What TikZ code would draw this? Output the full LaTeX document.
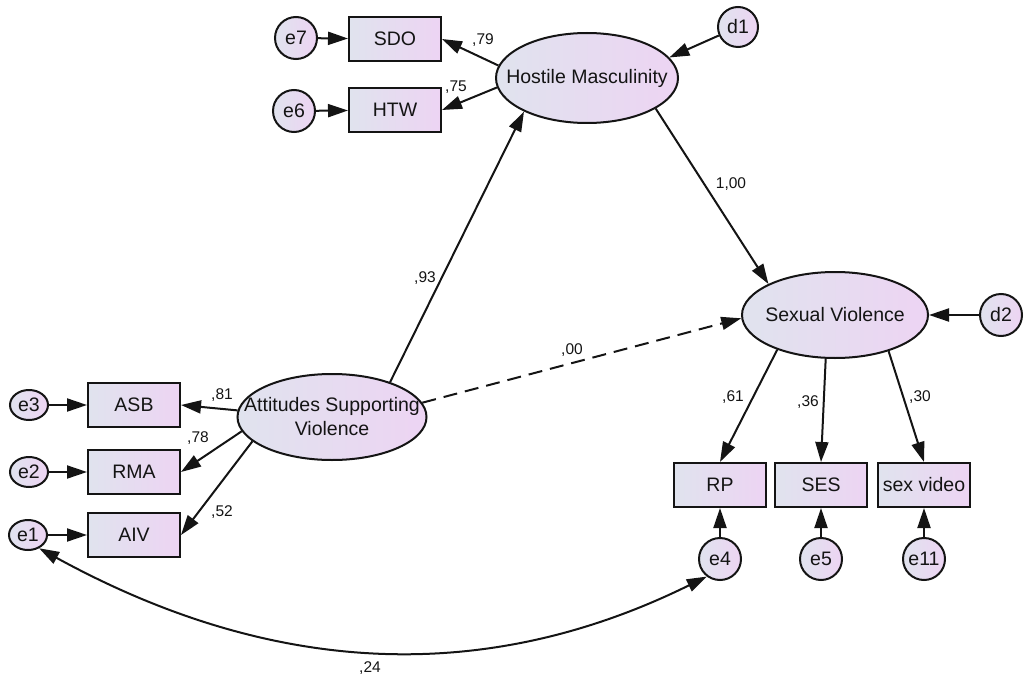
\documentclass[tikz,border=0pt]{standalone}
\usepackage{fontspec}
\setmainfont{Liberation Sans}
\usetikzlibrary{arrows.meta,shapes.geometric}

\definecolor{fillL}{RGB}{224,227,238}
\definecolor{fillR}{RGB}{237,212,243}
\definecolor{inkc}{RGB}{20,20,20}

\tikzset{
  >={Triangle[length=20pt,width=13pt]},
  grad/.style={left color=fillL, right color=fillR},
  txt/.style={font=\fontsize{19.5}{24}\selectfont, text=inkc, inner sep=0pt},
  obsbox/.style={rectangle, draw=inkc, line width=2pt, grad,
    minimum width=92pt, minimum height=44pt, inner sep=0pt, txt},
  latent/.style={ellipse, draw=inkc, line width=2pt, grad, inner sep=0pt,
    minimum width=182pt, minimum height=90pt},
  errc/.style={circle, draw=inkc, line width=2pt, grad, inner sep=0pt,
    minimum size=42pt},
  errl/.style={ellipse, draw=inkc, line width=2pt, grad, inner sep=0pt,
    minimum width=38pt, minimum height=30pt},
  arr/.style={line width=2pt, draw=inkc, ->},
  coef/.style={font=\fontsize{15.5}{17}\selectfont, text=inkc, inner sep=0pt}
}

\begin{document}
\begin{tikzpicture}[x=1pt,y=-1pt]
\useasboundingbox (0,0) rectangle (1024,679);

% latent variables
\node[latent, label={[txt]center:Hostile Masculinity}] (hm) at (587,78) {};
\node[latent, minimum width=186pt, minimum height=86pt,
      label={[txt]center:Sexual Violence}] (sv) at (835,315) {};
\node[latent, minimum width=189pt, minimum height=86pt,
      label={[txt, align=center]center:{Attitudes Supporting\\Violence}}] (asv) at (332,417) {};

% disturbances
\node[errc, minimum size=40pt, label={[txt]center:d1}] (d1) at (738,27) {};
\node[errc, label={[txt]center:d2}] (d2) at (1001,315) {};

% indicators of hostile masculinity
\node[obsbox] (sdo) at (395,39) {SDO};
\node[obsbox] (htw) at (395,110) {HTW};
\node[errc, label={[txt]center:e7}] (e7) at (296,38) {};
\node[errc, label={[txt]center:e6}] (e6) at (294,111) {};

% indicators of attitudes supporting violence
\node[obsbox] (asb) at (134,405) {ASB};
\node[obsbox] (rma) at (134,472) {RMA};
\node[obsbox] (aiv) at (134,535) {AIV};
\node[errl, label={[txt]center:e3}] (e3) at (29,405) {};
\node[errl, label={[txt]center:e2}] (e2) at (29,472) {};
\node[errl, label={[txt]center:e1}] (e1) at (28,535) {};

% indicators of sexual violence
\node[obsbox] (rp) at (720,485) {RP};
\node[obsbox] (ses) at (821,485) {SES};
\node[obsbox] (sxv) at (924,485) {sex video};
\node[errc, label={[txt]center:e4}] (e4) at (720,559) {};
\node[errc, label={[txt]center:e5}] (e5) at (821,559) {};
\node[errc, label={[txt]center:e11}] (e11) at (924,559) {};

% error terms
\draw[arr] (e7) -- (sdo);
\draw[arr] (e6) -- (htw);
\draw[arr] (e3) -- (asb);
\draw[arr] (e2) -- (rma);
\draw[arr] (e1) -- (aiv);
\draw[arr] (e4) -- (rp);
\draw[arr] (e5) -- (ses);
\draw[arr] (e11) -- (sxv);
\draw[arr] (d1) -- (hm.14);
\draw[arr] (d2) -- (sv.east);

% loadings
\draw[arr] (hm.172) -- (sdo.east);
\draw[arr] (hm.186) -- (htw.east);
\draw[arr] (asv.176) -- (asb.east);
\draw[arr] (asv.189) -- (rma.east);
\draw[arr] (asv.197) -- (aiv.east);
\draw[arr] (sv.211) -- (rp.north);
\draw[arr] (sv.258) -- (ses.north);
\draw[arr] (sv.326) -- (sxv.north);

% structural paths
\draw[arr] (asv.31) -- (hm.208);
\draw[arr] (hm.-24) -- (sv.155);
\draw[arr, dash pattern=on 14pt off 8pt] (asv.9) -- (sv.182);

% residual covariance
\draw[line width=2pt, draw=inkc, <->]
  (e1.-50) .. controls (283,682) and (495,681) .. (e4.233);

% coefficients
\node[coef] (c79) at (483,40) {,79};
\node[coef] (c75) at (456,87) {,75};
\node[coef] (c81) at (222,395) {,81};
\node[coef] (c78) at (198,438) {,78};
\node[coef] (c52) at (222,512) {,52};
\node[coef] (c93) at (425,278) {,93};
\node[coef] (c100) at (731,184) {1,00};
\node[coef] (c00) at (572,350) {,00};
\node[coef] (c61) at (733,397) {,61};
\node[coef] (c36) at (808,402) {,36};
\node[coef] (c30) at (920,397) {,30};
\node[coef] (c24) at (370,668) {,24};
\end{tikzpicture}
\end{document}
